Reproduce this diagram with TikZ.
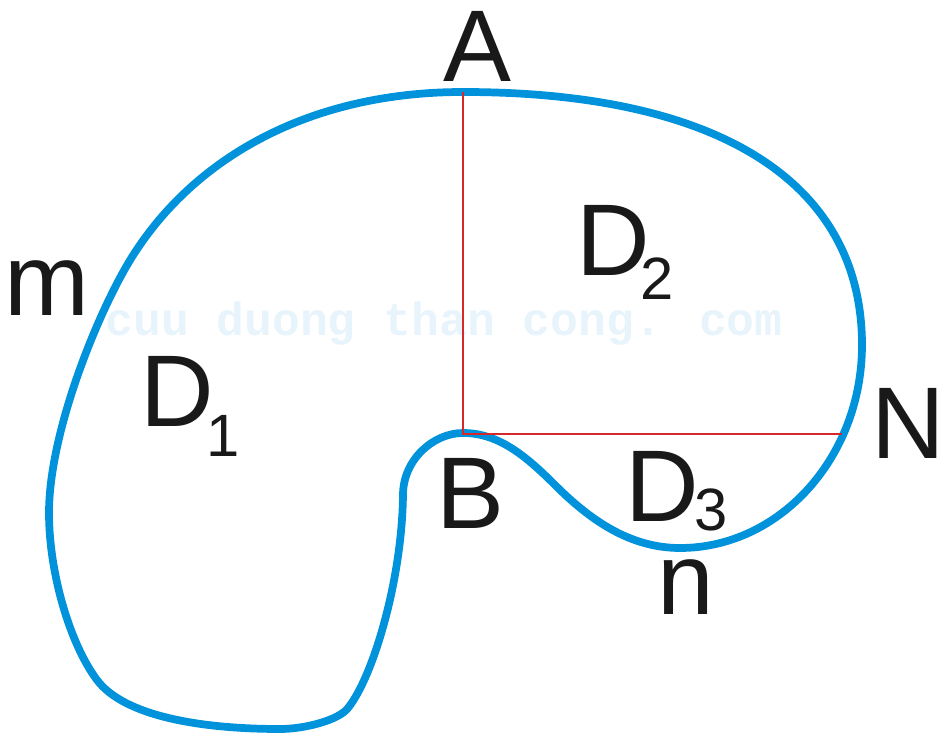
\documentclass[tikz,border=0pt]{standalone}
\usepackage{fontspec}
\setmainfont{Liberation Sans}
\newfontfamily\wmfont{Liberation Mono}
\definecolor{curveblue}{RGB}{0,146,218}
\definecolor{linered}{RGB}{214,40,40}
\definecolor{wmblue}{RGB}{232,244,251}
\newcommand{\subfnt}{\fontsize{34}{34}\selectfont}
\begin{document}
\begin{tikzpicture}[x=0.02cm,y=-0.02cm,
  lbl/.style={inner sep=0pt,font=\fontsize{58}{58}\selectfont,text=black!90},
  dlbl/.style={lbl,anchor=base west},
  boundary/.style={draw=curveblue,line width=4.4pt,line join=round},
  cut/.style={draw=linered,line width=1.1pt}]
\useasboundingbox (0,0) rectangle (944,736);
% watermark
\node[inner sep=0pt,anchor=west,font=\wmfont\bfseries\fontsize{26.4}{26}\selectfont,text=wmblue] (wm) at (105,324) {cuu duong than cong. com};
% boundary curve
\draw[boundary] (463,92) .. controls (723,92) and (862,185) .. (862,345)
  .. controls (862,457) and (780,548) .. (680,548)
  .. controls (630,548) and (590,520) .. (555,485)
  .. controls (525,455) and (498,433) .. (463,433)
  .. controls (433,433) and (403,460) .. (403,495)
  .. controls (402,580) and (373,677) .. (348,708)
  .. controls (339,720) and (305,729) .. (280,729)
  .. controls (200,729) and (124,716) .. (97,680)
  .. controls (70,644) and (49,573) .. (49,513)
  .. controls (49,430) and (100,308) .. (132,257)
  .. controls (196,155) and (313,92) .. (463,92) -- cycle;
% named points
\coordinate (pA) at (463,92);
\coordinate (pB) at (463,434);
\coordinate (pN) at (842,434);
\draw[cut] (pA) -- (pB) -- (pN);
% labels
\node[lbl] (A) at (477,46) {A};
\node[lbl] (B) at (470,493) {B};
\node[lbl] (N) at (908,423) {N};
\node[lbl] (m) at (47,288) {m};
\node[lbl] (n) at (686,587) {n};
\node[dlbl] (D1) at (140,427) {D\kern-4pt\raisebox{-17pt}{\subfnt 1}};
\node[dlbl] (D2) at (576,276) {D\kern-5.5pt\raisebox{-13.5pt}{\subfnt 2}};
\node[dlbl] (D3) at (625,522) {D\kern-2.5pt\raisebox{-5pt}{\subfnt 3}};
\end{tikzpicture}
\end{document}
